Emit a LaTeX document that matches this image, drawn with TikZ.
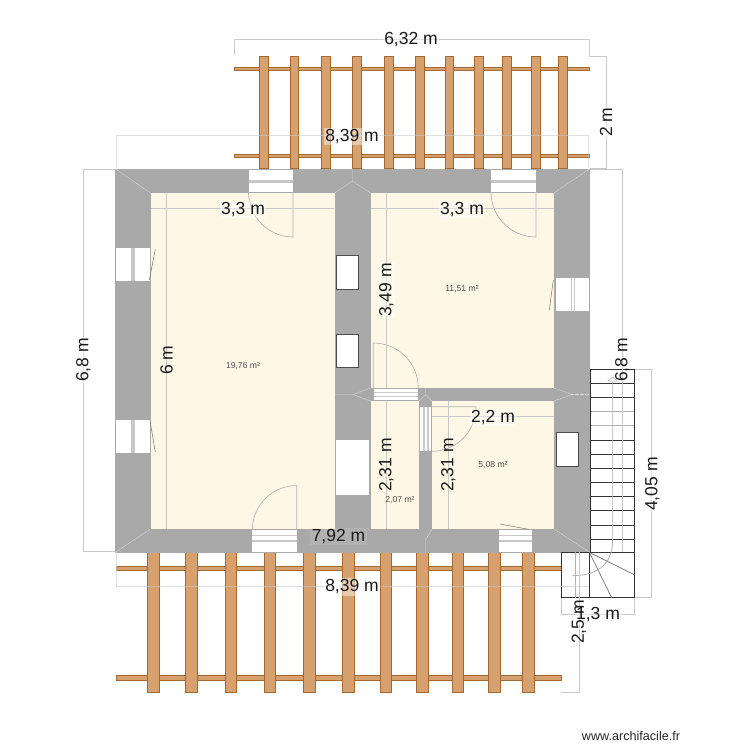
\documentclass[tikz,border=0pt]{standalone}
\usepackage{fontspec}
\setmainfont{Liberation Sans}
\definecolor{wallc}{HTML}{A9A9A9}
\definecolor{roomc}{HTML}{FDF8E5}
\definecolor{woodc}{HTML}{D6A16F}
\definecolor{woode}{HTML}{A5692F}
\definecolor{dimc}{HTML}{C8C8C8}
\definecolor{swingc}{HTML}{B4B4B4}
\definecolor{stairc}{HTML}{333333}
\tikzset{
  wood/.style={fill=woodc,draw=woode,line width=.6pt},
  room/.style={fill=roomc,draw=none},
  opening/.style={fill=white,draw=none},
  band/.style={fill=dimc,draw=none},
  boxw/.style={fill=white,draw=black!70,line width=.7pt},
  dimline/.style={draw=dimc,line width=.7pt},
  miter/.style={draw=white!60!wallc,line width=.4pt,dash pattern=on 2pt off .5pt},
  swing/.style={draw=swingc,line width=.7pt},
  leaf/.style={draw=black!55,line width=.5pt},
  tread/.style={draw=stairc,line width=.7pt},
  treadl/.style={draw=black!30,line width=.8pt},
  dimtxt/.style={font=\fontsize{17.5}{18}\selectfont,text=black!90,fill=white,fill opacity=.45,text opacity=1,inner sep=1.5pt},
  dimv/.style={dimtxt,rotate=90},
  area/.style={font=\fontsize{8.6}{10}\selectfont,text=black!70,inner sep=0pt}
}
\begin{document}
\begin{tikzpicture}[x=1pt,y=-1pt]
\useasboundingbox (0,0) rectangle (750,750);
\fill[white] (0,0) rectangle (750,750);
% top pergola
\foreach \y/\h in {67/70.7,154.3/157.7} \draw[wood] (234,\y) rectangle (589.5,\h);
\foreach \a/\b in {259.3/268.7,290/298.7,321/330.3,352.3/361.7,384.3/393.3,415/424,445/453.7,474/483,502.3/511.7,531.7/540.7,558.7/567.7}
  \draw[wood] (\a,56) rectangle (\b,168);
% bottom pergola
\foreach \y/\h in {566/570.7,675/680} \draw[wood] (116,\y) rectangle (561.5,\h);
\foreach \a/\b in {147.7/159,185.7/197.3,225/236.7,264/275.7,303.7/315.3,342.3/354,380/391.7,416.3/428,452/463.7,488.7/500.3,522.3/534}
  \draw[wood] (\a,552) rectangle (\b,692.7);
% walls and rooms
\fill[wallc] (115,168.5) rectangle (590,552.5);
\path[room] (150.5,193) rectangle (334.5,529);
\path[room] (370.5,193) rectangle (554,388);
\path[room] (370.5,401) rectangle (419,529);
\path[room] (432,401) rectangle (554,529);
% wall mitres
\draw[miter] (115,168.5) -- (150.5,193);
\draw[miter] (590,168.5) -- (554,193);
\draw[miter] (115,552.5) -- (150.5,529);
\draw[miter] (590,552.5) -- (554,529);
\draw[miter] (352.5,168.5) -- (352.5,181) -- (334.5,193);
\draw[miter] (352.5,181) -- (370.5,193);
\draw[miter] (334.5,394.5) -- (353,394.5) -- (370.5,388);
\draw[miter] (353,394.5) -- (370.5,401);
\draw[miter] (554,388) -- (572,394.5) -- (554,401);
\draw[miter] (572,394.5) -- (590,394.5);
\draw[miter] (425.5,388) -- (425.5,395) -- (419,401);
\draw[miter] (425.5,395) -- (432,401);
\draw[miter] (425.5,552.5) -- (425.5,540) -- (432,529);
% openings: horizontal stripes
\foreach \a/\b in {248.5/293,491/536}{
  \path[opening] (\a,169.5) rectangle (\b,192);
  \path[band] (\a,180) rectangle (\b,182.5);
}
\path[opening] (374,388.7) rectangle (418.3,400);
\path[band] (374,392) rectangle (418.3,393.2);
\path[band] (374,395.5) rectangle (418.3,396.7);
\foreach \a/\b in {252.3/296.7,499/532.3}{
  \path[opening] (\a,530) rectangle (\b,552);
  \path[band] (\a,535) rectangle (\b,536);
  \path[band] (\a,539.5) rectangle (\b,542);
}
% openings: vertical stripes
\foreach \y/\h in {248/281,420/453}{
  \path[opening] (116,\y) rectangle (149.5,\h);
  \path[band] (131,\y) rectangle (134.5,\h);
}
\path[opening] (556,278) rectangle (589,311);
\path[band] (571,278) rectangle (572,311);
\path[band] (574,278) rectangle (575,311);
\path[opening] (420,406.7) rectangle (431.3,451);
\path[band] (422.5,406.7) rectangle (424.5,451);
\path[band] (427,406.7) rectangle (429,451);
% boxes in walls
\path[boxw] (336.3,255.7) rectangle (358.7,289.3);
\path[boxw] (336.3,334.3) rectangle (358.7,367.3);
\path[opening] (336,439.7) rectangle (369,494.7);
\path[boxw] (556.3,432.7) rectangle (578.7,466);
% door swings
\draw[swing] (248.5,192) .. controls (248.5,216.9) and (268.4,237) .. (293,237) -- (293,192);
\draw[swing] (491,192) .. controls (491,216.9) and (511,237) .. (536,237) -- (536,192);
\draw[swing] (418.3,388) .. controls (418.3,363) and (398,343) .. (373.3,343) -- (373.3,388);
\draw[swing] (432,451.3) .. controls (456.3,451.3) and (476,431.6) .. (476,406.7) -- (432,406.7);
\draw[swing] (252.3,530) .. controls (252.3,505.5) and (272,485.6) .. (296.7,485.6) -- (296.7,530);
% window leaves
\draw[leaf] (149.3,280) -- (155.3,249.3);
\draw[leaf] (150,420.7) -- (155.3,452);
\draw[leaf] (553.3,280) -- (549.3,310);
\draw[leaf] (500,524) -- (528.3,529.3);
% stairs
\path[fill=white] (590,369.7) rectangle (634.7,552.3);
\foreach \y in {411.7,425.7} \draw[treadl] (590,\y) -- (634.7,\y);
\foreach \y in {383.5,397.5,440,454.3,468.3,482.3,496.7,510.7,525,539} \draw[tread] (590,\y) -- (634.7,\y);
\draw[tread] (590,369.7) rectangle (634.7,552.3);
\draw[tread] (561.7,552.3) rectangle (634.7,597.7);
\draw[tread] (589.3,552.3) -- (589.3,597.7);
\draw[leaf,line width=.7pt] (589.3,552.3) -- (634.3,574.7);
\draw[leaf,line width=.7pt] (589.3,552.3) -- (611.7,597.7);
\draw[treadl] (612.7,381) -- (612.7,540) .. controls (612.7,562) and (600,575.7) .. (572,575.7);
\draw[treadl,line width=.5pt] (608,381) -- (612.7,377) -- (617,381) -- cycle;
\draw[treadl] (575.7,552.3) -- (575.7,597.7);
% dimension lines
\draw[dimline] (234,55) -- (234,39) -- (589,39) -- (589,56);
\draw[dimline] (589,56) -- (606.7,56) -- (606.7,168) -- (590,168);
\draw[dimline,opacity=.6] (116.7,168) -- (116.7,135.3) -- (588.7,135.3) -- (588.7,168);
\draw[dimline] (115,169) -- (83,169) -- (83,551.5) -- (115,551.5);
\draw[dimline] (590,169) -- (622.7,169);
\draw[dimline] (622.7,169) -- (622.7,552);
\draw[dimline] (150.7,208.7) -- (334,208.7);
\draw[dimline] (370.7,208.7) -- (554,208.7);
\draw[dimline] (166.7,193) -- (166.7,529);
\draw[dimline] (386.3,193) -- (386.3,388);
\draw[dimline] (386.3,401) -- (386.3,529);
\draw[dimline] (448,401) -- (448,529);
\draw[dimline] (432,416.7) -- (554,416.7);
\draw[dimline,opacity=.6] (116.7,552) -- (116.7,586) -- (589,586);
\draw[dimline] (634.7,597.7) -- (651.7,597.7) -- (651.7,369.7) -- (634.7,369.7);
\draw[dimline] (561.7,597.7) -- (561.7,614.3) -- (634.7,614.3) -- (634.7,597.7);
\draw[dimline] (579,552.3) -- (579,692.7) -- (561,692.7);
% dimension labels
\node[dimtxt] (d1) at (411,40) {6,32 m};
\node[dimv] (d2) at (606,122) {2 m};
\node[dimtxt] (d3) at (352,136.5) {8,39 m};
\node[dimv] (d4) at (83.5,360) {6,8 m};
\node[dimv,fill opacity=0] (d5) at (622.5,360) {6,8 m};
\node[dimtxt] (d6) at (243,209.5) {3,3 m};
\node[dimtxt] (d7) at (462,209.5) {3,3 m};
\node[dimv,fill opacity=0] (d8) at (166.5,360) {6 m};
\node[dimv] (d9) at (386.5,290) {3,49 m};
\node[dimv,fill opacity=0] (d10) at (386.5,465) {2,31 m};
\node[dimv,fill opacity=0] (d11) at (448.5,465) {2,31 m};
\node[dimtxt] (d12) at (493,417.5) {2,2 m};
\node[dimtxt,fill opacity=.1] (d13) at (338.5,536.5) {7,92 m};
\node[dimtxt] (d14) at (352,587) {8,39 m};
\node[dimv] (d15) at (652.5,484) {4,05 m};
\node[dimtxt] (d16) at (598,615) {1,3 m};
\node[dimv,fill opacity=0] (d17) at (579,622) {2,5 m};
% areas
\node[area] (a1) at (243,366) {19,76 m²};
\node[area] (a2) at (462,289.5) {11,51 m²};
\node[area] (a3) at (493,465) {5,08 m²};
\node[area] (a4) at (400,500.5) {2,07 m²};
\node[font=\fontsize{12.6}{14}\selectfont,text=black!85,inner sep=0pt] (wm) at (631,736) {www.archifacile.fr};
\end{tikzpicture}
\end{document}
